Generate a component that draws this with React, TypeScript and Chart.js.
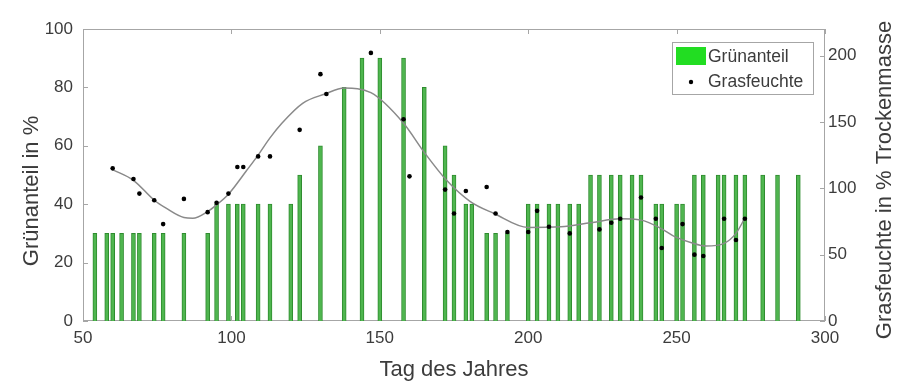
import React, { useEffect, useRef } from 'react';
import { Chart, registerables } from 'chart.js';

Chart.register(...registerables);

// Grünanteil (bars): day of year and percent
const BAR_DAYS = [
  54, 58, 60, 63, 67, 69, 74, 77, 84, 92, 95, 99, 102, 104, 109, 113,
  120, 123, 130, 138, 144, 150, 158, 165, 172, 175, 179,
  181, 186, 189, 193, 200, 203, 207, 210, 214, 217, 221, 224, 228, 231, 235, 238,
  243, 245, 250, 252, 256, 259, 264, 266, 270, 273, 279, 284, 291,
];
const BAR_VALUES = [
  30, 30, 30, 30, 30, 30, 30, 30, 30, 30, 40, 40, 40, 40, 40, 40,
  40, 50, 60, 80, 90, 90, 90, 80, 60, 50, 40,
  40, 30, 30, 30, 40, 40, 40, 40, 40, 40, 50, 50, 50, 50, 50, 50,
  40, 40, 40, 40, 50, 50, 50, 50, 50, 50, 50, 50, 50,
];

// Grasfeuchte (dots): day of year and % of dry mass
const MOIST_DAYS = [
  60, 67, 69, 74, 77, 84, 92, 95, 99, 102, 104, 109, 113,
  123, 130, 132, 147, 158, 160, 172, 175, 179,
  186, 189, 193, 200, 203, 207, 214, 224, 228, 231, 238,
  243, 245, 252, 256, 259, 266, 270, 273,
];
const MOIST_VALUES = [
  115, 107, 96, 91, 73, 92, 82, 89, 96, 116, 116, 124, 124,
  144, 186, 171, 202, 152, 109, 99, 81, 98,
  101, 81, 67, 67, 83, 71, 66, 69, 74, 77, 93,
  77, 55, 73, 50, 49, 77, 61, 77,
];

// Smoothed trend of Grasfeuchte
const FIT_DAYS = [
  60, 67, 74, 78, 84, 87, 92, 95, 99, 105, 109, 113, 117, 124, 131.5, 138, 147,
  158, 165, 172.5, 180.5, 188.5, 200, 211, 221, 231, 238, 244.5, 249, 255, 260, 266, 270, 273,
];
const FIT_VALUES = [
  114, 106, 91, 85, 78, 77.5, 82.5, 87.5, 95.5, 113, 125, 138, 149, 164, 171, 175.5, 172,
  149, 127, 106, 90, 81, 70.5, 71, 74, 77, 76, 70, 64, 59, 56.5, 58.5, 66, 77.5,
];

const X_TICKS = [50, 100, 150, 200, 250, 300];
const LEFT_TICKS = [0, 20, 40, 60, 80, 100];
const RIGHT_TICKS = [0, 50, 100, 150, 200];

const X_TITLE = 'Tag des Jahres';
const LEFT_TITLE = 'Grünanteil in %';
const RIGHT_TITLE = 'Grasfeuchte in % Trockenmasse';
const LEGEND_BARS = 'Grünanteil';
const LEGEND_DOTS = 'Grasfeuchte';

const FONT = '"Liberation Sans", Arial, Helvetica, sans-serif';
const TEXT = '#3c3c3c';
const FRAME = '#a6a6a6';

export default function App() {
  const ref = useRef<HTMLCanvasElement>(null);

  useEffect(() => {
    const canvas = ref.current;
    if (!canvas) return;

    const decor = {
      id: 'decor',
      beforeDatasetsDraw(chart: any) {
        const { ctx, chartArea: a, scales } = chart;
        ctx.save();
        ctx.strokeStyle = FRAME;
        ctx.lineWidth = 1;
        ctx.strokeRect(a.left + 0.5, a.top + 0.5, a.right - a.left - 1, a.bottom - a.top - 1);
        ctx.beginPath();
        const tl = 5;
        for (const v of X_TICKS) {
          const px = Math.round(scales.x.getPixelForValue(v)) + 0.5;
          ctx.moveTo(px, a.bottom);
          ctx.lineTo(px, a.bottom - tl);
          ctx.moveTo(px, a.top);
          ctx.lineTo(px, a.top + tl);
        }
        for (const v of LEFT_TICKS) {
          const py = Math.round(scales.y.getPixelForValue(v)) + 0.5;
          ctx.moveTo(a.left, py);
          ctx.lineTo(a.left + tl, py);
        }
        for (const v of RIGHT_TICKS) {
          const py = Math.round(scales.y1.getPixelForValue(v)) + 0.5;
          ctx.moveTo(a.right, py);
          ctx.lineTo(a.right - tl, py);
        }
        ctx.stroke();
        ctx.restore();
      },
      afterDraw(chart: any) {
        const { ctx } = chart;
        ctx.save();
        // axis titles (both read bottom to top)
        ctx.fillStyle = TEXT;
        ctx.font = `22px ${FONT}`;
        ctx.textAlign = 'center';
        ctx.textBaseline = 'middle';
        ctx.save();
        ctx.translate(32, 191);
        ctx.rotate(-Math.PI / 2);
        ctx.fillText(LEFT_TITLE, 0, 0);
        ctx.restore();
        ctx.save();
        ctx.translate(885, 180);
        ctx.rotate(-Math.PI / 2);
        ctx.fillText(RIGHT_TITLE, 0, 0);
        ctx.restore();

        // legend
        const bx = 672, by = 42, bw = 141, bh = 52;
        ctx.fillStyle = '#ffffff';
        ctx.fillRect(bx, by, bw, bh);
        ctx.strokeStyle = FRAME;
        ctx.lineWidth = 1;
        ctx.strokeRect(bx + 0.5, by + 0.5, bw, bh);
        ctx.fillStyle = '#22dd22';
        ctx.fillRect(676, 47, 30, 18);
        ctx.fillStyle = '#000000';
        ctx.beginPath();
        ctx.arc(691, 82, 2.2, 0, Math.PI * 2);
        ctx.fill();
        ctx.fillStyle = TEXT;
        ctx.font = `17.5px ${FONT}`;
        ctx.textAlign = 'left';
        ctx.textBaseline = 'middle';
        ctx.fillText(LEGEND_BARS, 708, 57);
        ctx.fillText(LEGEND_DOTS, 708, 82);
        ctx.restore();
      },
    };

    const tickFont = { family: FONT, size: 17 };

    const chart = new Chart(canvas, {
      type: 'bar',
      data: {
        datasets: [
          {
            type: 'scatter',
            label: LEGEND_DOTS,
            data: MOIST_DAYS.map((d, i) => ({ x: d, y: MOIST_VALUES[i] })),
            yAxisID: 'y1',
            backgroundColor: '#000000',
            borderColor: '#000000',
            pointRadius: 2.3,
            pointBorderWidth: 0,
            showLine: false,
            order: 1,
          } as any,
          {
            type: 'line',
            label: 'Trend',
            data: FIT_DAYS.map((d, i) => ({ x: d, y: FIT_VALUES[i] })),
            yAxisID: 'y1',
            borderColor: '#8a8a8a',
            borderWidth: 1.5,
            pointRadius: 0,
            fill: false,
            cubicInterpolationMode: 'monotone',
            order: 2,
          } as any,
          {
            type: 'bar',
            label: LEGEND_BARS,
            data: BAR_DAYS.map((d, i) => ({ x: d, y: BAR_VALUES[i] })),
            yAxisID: 'y',
            backgroundColor: '#4fb64f',
            borderColor: '#2f8c2f',
            borderWidth: 1,
            barThickness: 4,
            order: 3,
          } as any,
        ],
      },
      options: {
        animation: false,
        responsive: true,
        maintainAspectRatio: false,
        layout: { padding: { top: 29, left: 0, right: 0, bottom: 0 } },
        plugins: { legend: { display: false }, tooltip: { enabled: false } },
        scales: {
          x: {
            type: 'linear',
            min: 50,
            max: 300,
            offset: false,
            afterBuildTicks: (s: any) => { s.ticks = X_TICKS.map((v) => ({ value: v })); },
            afterFit: (s: any) => { s.height = 62; },
            grid: { display: false, drawTicks: false },
            border: { display: false },
            ticks: { font: tickFont, color: TEXT, padding: 7, maxRotation: 0, autoSkip: false },
            title: {
              display: true,
              text: X_TITLE,
              color: TEXT,
              font: { family: FONT, size: 22, lineHeight: 1 },
              padding: { top: 0, bottom: 2 },
            },
          },
          y: {
            type: 'linear',
            position: 'left',
            min: 0,
            max: 100,
            afterBuildTicks: (s: any) => { s.ticks = LEFT_TICKS.map((v) => ({ value: v })); },
            afterFit: (s: any) => { s.width = 83; },
            grid: { display: false, drawTicks: false },
            border: { display: false },
            ticks: { font: tickFont, color: TEXT, padding: 10 },
          },
          y1: {
            type: 'linear',
            position: 'right',
            min: 0,
            max: 220,
            afterBuildTicks: (s: any) => { s.ticks = RIGHT_TICKS.map((v) => ({ value: v })); },
            afterFit: (s: any) => { s.width = 78; },
            grid: { display: false, drawTicks: false },
            border: { display: false },
            ticks: { font: tickFont, color: TEXT, padding: 3 },
          },
        },
      } as any,
      plugins: [decor],
    });

    return () => chart.destroy();
  }, []);

  return (
    <div style={{ position: 'absolute', left: 0, top: 0, width: 903, height: 383, background: '#ffffff' }}>
      <canvas ref={ref} />
    </div>
  );
}
